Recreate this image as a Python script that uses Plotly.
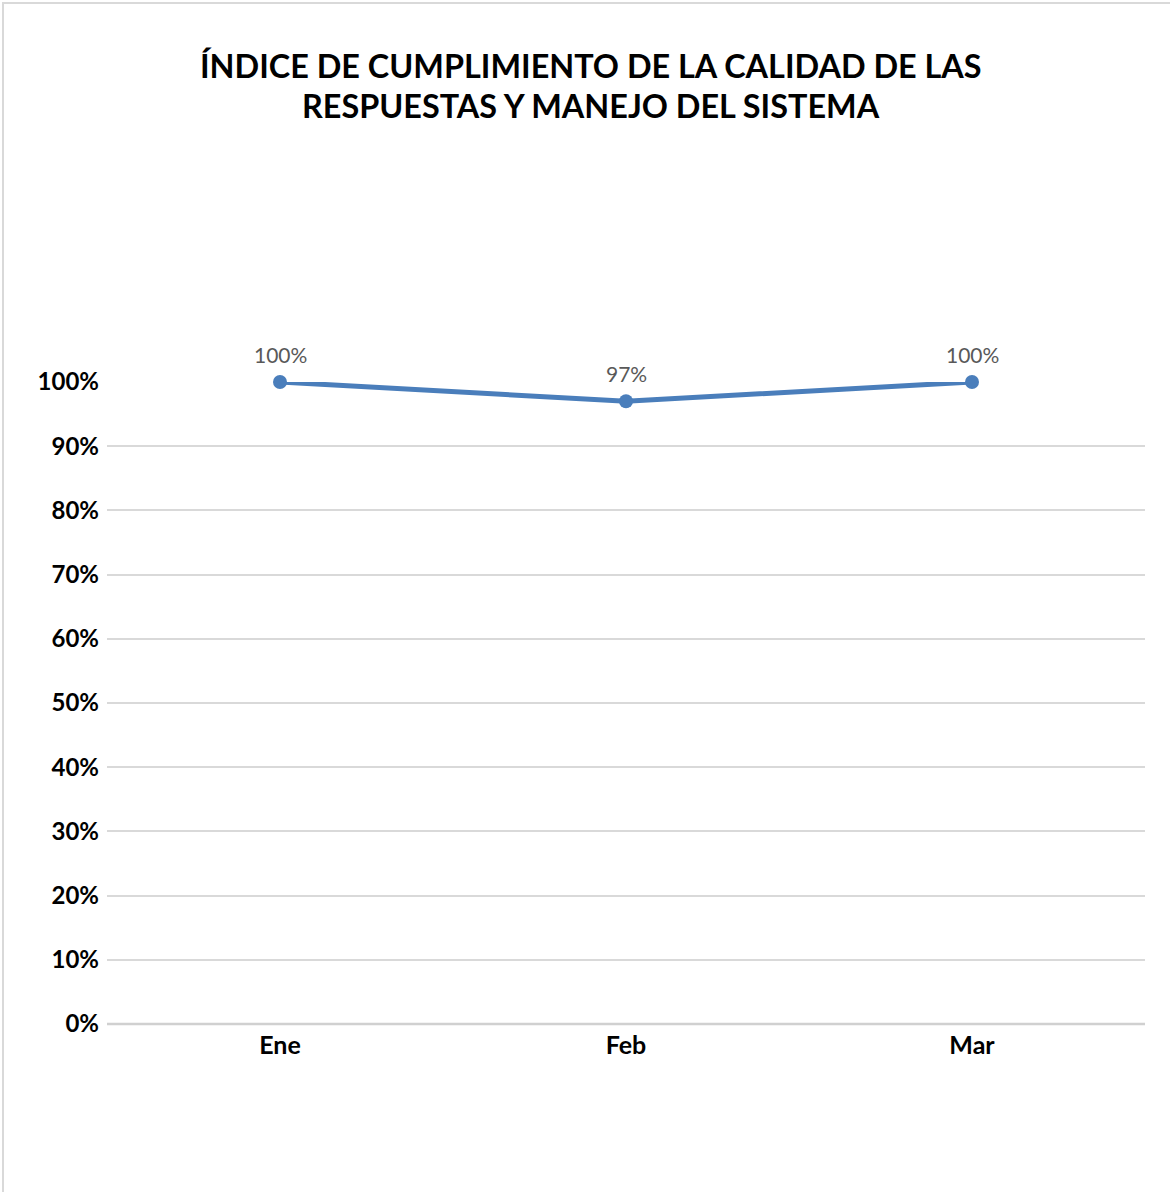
import plotly.graph_objects as go

months = ["Ene", "Feb", "Mar"]
values = [1.00, 0.97, 1.00]
labels = ["100%", "97%", "100%"]
y_ticks = [0, 0.1, 0.2, 0.3, 0.4, 0.5, 0.6, 0.7, 0.8, 0.9, 1.0]
y_tick_text = ["0%", "10%", "20%", "30%", "40%", "50%", "60%", "70%", "80%", "90%", "100%"]
title_lines = ["ÍNDICE DE CUMPLIMIENTO DE LA CALIDAD DE LAS",
               "RESPUESTAS Y MANEJO DEL SISTEMA"]

W, H = 1170, 1192
L, R, T, B = 107, 25, 382, 168
pw, ph = W - L - R, H - T - B

fig = go.Figure()
fig.add_trace(go.Scatter(
    x=months, y=values, mode="lines+markers",
    line=dict(color="#4a7ebb", width=5),
    marker=dict(color="#4a7ebb", size=14),
    hoverinfo="skip", showlegend=False, cliponaxis=False,
))
for m, v, t in zip(months, values, labels):
    fig.add_annotation(x=m, y=v, text=t, showarrow=False, yshift=28,
                       font=dict(family="Lato", size=21, color="#595959"))

for line, yc in zip(title_lines, [66, 105]):
    fig.add_annotation(xref="paper", yref="paper",
                       x=(591 - L) / pw, y=1 + (T - yc) / ph,
                       xanchor="center", yanchor="middle", showarrow=False,
                       text="<b>" + line + "</b>",
                       font=dict(family="Lato", size=32.4, color="black"))

fig.update_layout(
    width=W, height=H,
    margin=dict(l=L, r=R, t=T, b=B),
    paper_bgcolor="white", plot_bgcolor="white",
    font=dict(family="Lato"),
    xaxis=dict(
        type="category", range=[-0.5, 2.5], showgrid=False, zeroline=False,
        showline=False, ticks="", ticklabelstandoff=4,
        tickfont=dict(family="Lato", size=25, color="black", weight="bold"),
    ),
    yaxis=dict(
        range=[0, 1], tickvals=y_ticks, ticktext=y_tick_text,
        showgrid=True, gridcolor="#d9d9d9", gridwidth=1.5,
        zeroline=False, showline=False, ticks="", ticklabelstandoff=7,
        tickfont=dict(family="Lato", size=24, color="black", weight="bold"),
    ),
    shapes=[
        dict(type="line", xref="paper", yref="paper", x0=0, x1=1, y0=0, y1=0,
             line=dict(color="#d0d0d0", width=2.5)),
        dict(type="rect", xref="paper", yref="paper",
             x0=-(L - 3) / pw, x1=1 + (R + 10) / pw,
             y0=-(B + 10) / ph, y1=1 + (T - 3) / ph,
             line=dict(color="#d9d9d9", width=2), layer="below"),
    ],
)

fig.write_html("out.html", config={"displayModeBar": False},
               post_script="document.body.style.margin='0';document.body.style.overflow='hidden';")
